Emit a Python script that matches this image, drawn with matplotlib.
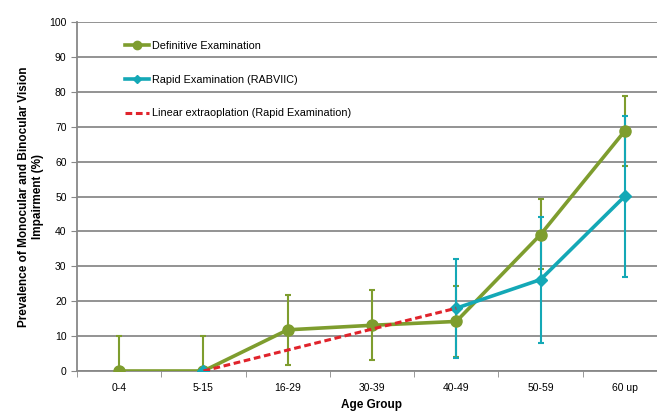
import numpy as np
import matplotlib
matplotlib.use("Agg")
import matplotlib.pyplot as plt
from matplotlib.lines import Line2D

plt.rcParams['font.family'] = ['Liberation Sans', 'DejaVu Sans']

age_groups = ['0-4', '5-15', '16-29', '30-39', '40-49', '50-59', '60 up']

# definitive examination with CI
definitive = [0, 0, 11.8, 13.1, 14.2, 39.1, 68.8]
def_low = [0, 0, 1.8, 3.2, 4.0, 29.1, 58.7]
def_high = [10, 10, 21.9, 23.2, 24.4, 49.3, 78.9]

# rapid examination (RABVIIC), only at some groups
rapid = [np.nan, 0, np.nan, np.nan, 18.0, 26.2, 50.1]
rapid_low = [np.nan, 0, np.nan, np.nan, 3.6, 8.1, 27.0]
rapid_high = [np.nan, 0, np.nan, np.nan, 32.0, 44.2, 73.0]

# linear extrapolation between 5-15 and 40-49
extrap = [np.nan, 0, 6, 12, 18.0, np.nan, np.nan]

green = '#7E9D2E'
teal = '#14A8B6'
red = '#E0232B'

x = np.arange(len(age_groups))
definitive = np.array(definitive)
rapid = np.array(rapid)

fig = plt.figure(figsize=(6.57, 4.13), dpi=100)
ax = fig.add_axes([0.1172, 0.1017, 0.898, 0.845])

ax.errorbar(x, definitive,
            yerr=[definitive - np.array(def_low), np.array(def_high) - definitive],
            fmt='none', ecolor=green, elinewidth=1.5, capsize=2.5, capthick=1.5, zorder=3)
m = ~np.isnan(rapid)
ax.errorbar(x[m], rapid[m],
            yerr=[rapid[m] - np.array(rapid_low)[m], np.array(rapid_high)[m] - rapid[m]],
            fmt='none', ecolor=teal, elinewidth=1.5, capsize=2.5, capthick=1.5, zorder=4)

ax.plot(x, definitive, color=green, lw=2.6, marker='o', ms=8, zorder=5)
# rapid: marker at 5-15, line from 40-49 onwards
ax.plot(x[m], rapid[m], color=teal, ls='none', marker='D', ms=6, zorder=6)
ax.plot(x[4:], rapid[4:], color=teal, lw=2.6, zorder=6)
ax.plot(x, extrap, color=red, lw=2.2, ls=(0, (2.2, 1.2)), zorder=7)

ax.set_xlim(-0.5, 6.5)
ax.set_ylim(0, 100)
ax.set_yticks(np.arange(0, 101, 10))
ax.set_xticks(x)
ax.set_xticklabels(age_groups)
ax.set_xticks(np.arange(-0.5, 6.6, 1), minor=True)
ax.tick_params(axis='x', which='major', length=0, labelsize=7.5, pad=9)
ax.tick_params(axis='x', which='minor', length=4, color='#888888')
ax.tick_params(axis='y', length=4, color='#888888', labelsize=7.5)
ax.yaxis.grid(True, color='#8a8a8a', lw=1.3)
ax.set_axisbelow(True)
for s in ['top', 'right']:
    ax.spines[s].set_visible(False)
for s in ['left', 'bottom']:
    ax.spines[s].set_color('#888888')
    ax.spines[s].set_linewidth(1.3)

ax.set_xlabel('Age Group', fontsize=8.5, fontweight='bold', labelpad=4)
ax.set_ylabel('Prevalence of Monocular and Binocular Vision\nImpairment (%)',
              fontsize=8.5, fontweight='bold', labelpad=4)

handles = [
    Line2D([], [], color=green, lw=2.6, marker='o', ms=6),
    Line2D([], [], color=teal, lw=2.6, marker='D', ms=4),
    Line2D([], [], color=red, lw=2.2, ls=(0, (2.2, 1.2))),
]
labels = ['Definitive Examination', 'Rapid Examination (RABVIIC)',
          'Linear extraoplation (Rapid Examination)']
ax.legend(handles, labels, loc='upper left', bbox_to_anchor=(0.175, 0.925),
          bbox_transform=fig.transFigure, frameon=False, fontsize=7.8,
          handlelength=2.2, handletextpad=0.3, labelspacing=2.2)

fig.savefig('out.png', dpi=100)
